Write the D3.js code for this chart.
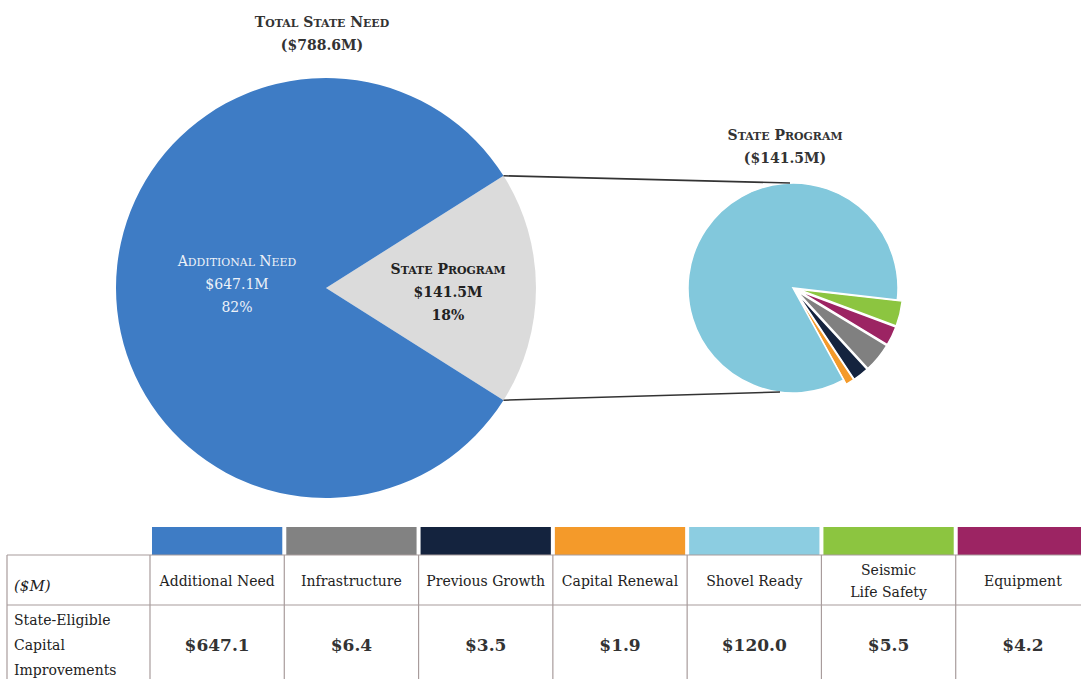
<!DOCTYPE html>
<html>
<head>
<meta charset="utf-8">
<script src="https://cdn.jsdelivr.net/npm/d3@7"></script>
<style>
  body { margin: 0; background: #fff; }
  svg { display: block; }
  text { font-family: "DejaVu Serif", "Liberation Serif", serif; }
</style>
</head>
<body>
<div id="chart"></div>
<script>
// --- data ---
const categories = ["Additional Need", "Infrastructure", "Previous Growth", "Capital Renewal", "Shovel Ready", "Seismic Life Safety", "Equipment"];
const headerLines = [["Additional Need"], ["Infrastructure"], ["Previous Growth"], ["Capital Renewal"], ["Shovel Ready"], ["Seismic", "Life Safety"], ["Equipment"]];
const values = [647.1, 6.4, 3.5, 1.9, 120.0, 5.5, 4.2];
const colors = ["#3e7cc5", "#828282", "#14233e", "#f49a2a", "#8ccde1", "#8cc540", "#9c2463"];
const pieColors = ["#3e7cc5", "#808080", "#14233e", "#f49a2a", "#82c8dc", "#8cc540", "#9c2463"];

const totalLabel = "Total State Need";
const totalValue = 788.6;
const programLabel = "State Program";
const programValue = 141.5;
const additionalPct = "82%";
const programPct = "18%";
// order of slices in the small pie, clockwise from its start angle
const smallOrder = ["Seismic Life Safety", "Equipment", "Infrastructure", "Previous Growth", "Capital Renewal", "Shovel Ready"];
const rowLabel = ["State-Eligible", "Capital", "Improvements"];

const width = 1081, height = 679;

const svg = d3.select("#chart").append("svg")
  .attr("width", width)
  .attr("height", height)
  .attr("viewBox", `0 0 ${width} ${height}`);

// --- big pie ---
const big = { cx: 326, cy: 288, r: 210 };
const bigData = [
  { name: "State Program", value: programValue, color: "#dbdbdb" },
  { name: "Additional Need", value: values[0], color: pieColors[0] }
];
const halfGray = Math.PI * programValue / totalValue;
const bigPie = d3.pie().sort(null).value(d => d.value)
  .startAngle(Math.PI / 2 - halfGray)
  .endAngle(Math.PI / 2 - halfGray + 2 * Math.PI);
const bigArcs = bigPie(bigData);
const bigArc = d3.arc().innerRadius(0).outerRadius(big.r);

const gBig = svg.append("g").attr("transform", `translate(${big.cx},${big.cy})`);
gBig.selectAll("path").data(bigArcs).join("path")
  .attr("d", bigArc)
  .attr("fill", d => d.data.color);

// --- small pie ---
const small = { cx: 793, cy: 288, r: 105 };
const smallData = smallOrder.map(n => {
  const i = categories.indexOf(n);
  return { name: n, value: values[i], color: pieColors[i] };
});
const startA = 96.5 * Math.PI / 180;
const smallPie = d3.pie().sort(null).value(d => d.value)
  .startAngle(startA).endAngle(startA + 2 * Math.PI);
const smallArcs = smallPie(smallData);
const smallArc = d3.arc().innerRadius(0).outerRadius(small.r);

const gSmall = svg.append("g").attr("transform", `translate(${small.cx},${small.cy})`);
gSmall.selectAll("path").data(smallArcs).join("path")
  .attr("d", smallArc)
  .attr("fill", d => d.data.color)
  .attr("stroke", "#fff")
  .attr("stroke-width", 1.5)
  .attr("transform", d => {
    if (d.data.name === "Shovel Ready") return null;
    const a = (d.startAngle + d.endAngle) / 2;
    const off = 5;
    return `translate(${off * Math.sin(a)},${-off * Math.cos(a)})`;
  });

// --- connector lines ---
const g0 = bigArcs[0];
const corner = a => [big.cx + big.r * Math.sin(a), big.cy - big.r * Math.cos(a)];
const [tx, ty] = corner(g0.startAngle);
const [bx, by] = corner(g0.endAngle);
svg.append("line")
  .attr("x1", tx).attr("y1", ty)
  .attr("x2", small.cx - 3).attr("y2", small.cy - small.r)
  .attr("stroke", "#333").attr("stroke-width", 1.6);
svg.append("line")
  .attr("x1", bx).attr("y1", by)
  .attr("x2", small.cx - 13).attr("y2", small.cy + small.r - 1)
  .attr("stroke", "#333").attr("stroke-width", 1.6);

// --- pie labels ---
const fmtM = v => `$${v.toFixed(1)}M`;

// hand-made small caps: capitals at full size, the rest upper-cased and smaller
function smallCaps(tspan, s, size) {
  s.split("").forEach(ch => {
    const up = ch === ch.toUpperCase();
    tspan.append("tspan")
      .attr("font-size", up ? size : size * 0.78)
      .text(ch.toUpperCase());
  });
}

function label(x, ys, lines, opts) {
  const size = opts.size || 14;
  const t = svg.append("text")
    .attr("text-anchor", "middle")
    .attr("fill", opts.fill)
    .attr("font-size", size)
    .attr("font-weight", opts.weight || "bold");
  lines.forEach((s, i) => {
    const ts = t.append("tspan").attr("x", x).attr("y", ys[i]);
    if (i === 0) smallCaps(ts, s, size);
    else ts.text(s);
  });
}

label(322, [27, 50], [totalLabel, `(${fmtM(totalValue)})`], { fill: "#333" });
label(785, [140, 163], [programLabel, `(${fmtM(programValue)})`], { fill: "#333" });
label(237, [266, 289, 312], ["Additional Need", fmtM(values[0]), additionalPct], { fill: "#eef2f8", weight: "normal" });
label(448, [274, 297, 320], [programLabel, fmtM(programValue), programPct], { fill: "#222" });

// --- table ---
const tbl = { left: 7, labelRight: 150, right: 1090, barTop: 527, top: 555, headBottom: 605, bottom: 700 };
const x = d3.scaleBand().domain(categories).range([tbl.labelRight, tbl.right]);
const border = "#a89c9c";

svg.append("g").selectAll("rect").data(categories).join("rect")
  .attr("x", d => x(d) + 2)
  .attr("y", tbl.barTop)
  .attr("width", x.bandwidth() - 4)
  .attr("height", tbl.top - tbl.barTop)
  .attr("fill", (d, i) => colors[i]);

const grid = svg.append("g").attr("stroke", border).attr("stroke-width", 1.2);
[tbl.top, tbl.headBottom].forEach(y => grid.append("line")
  .attr("x1", tbl.left).attr("x2", tbl.right).attr("y1", y).attr("y2", y));
[tbl.left, tbl.labelRight, ...categories.slice(1).map(c => x(c))].forEach(xx => grid.append("line")
  .attr("x1", xx).attr("x2", xx).attr("y1", tbl.top).attr("y2", tbl.bottom));

// header cells
const head = svg.append("g").attr("font-size", 14).attr("fill", "#222").attr("text-anchor", "middle");
headerLines.forEach((lines, i) => {
  const cx = x(categories[i]) + x.bandwidth() / 2;
  const t = head.append("text");
  const y0 = lines.length === 1 ? 586 : 575;
  lines.forEach((s, j) => t.append("tspan").attr("x", cx).attr("y", y0 + j * 22).text(s));
});

svg.append("text")
  .attr("x", 14).attr("y", 591)
  .attr("font-size", 15).attr("font-style", "italic").attr("fill", "#222")
  .text("($M)");

const rl = svg.append("text").attr("font-size", 14).attr("fill", "#222");
rowLabel.forEach((s, j) => rl.append("tspan").attr("x", 14).attr("y", 625 + j * 25).text(s));

svg.append("g").attr("font-size", 17).attr("font-weight", "bold").attr("fill", "#333").attr("text-anchor", "middle")
  .selectAll("text").data(categories).join("text")
  .attr("x", d => x(d) + x.bandwidth() / 2)
  .attr("y", 651)
  .text((d, i) => `$${values[i].toFixed(1)}`);
</script>
</body>
</html>
